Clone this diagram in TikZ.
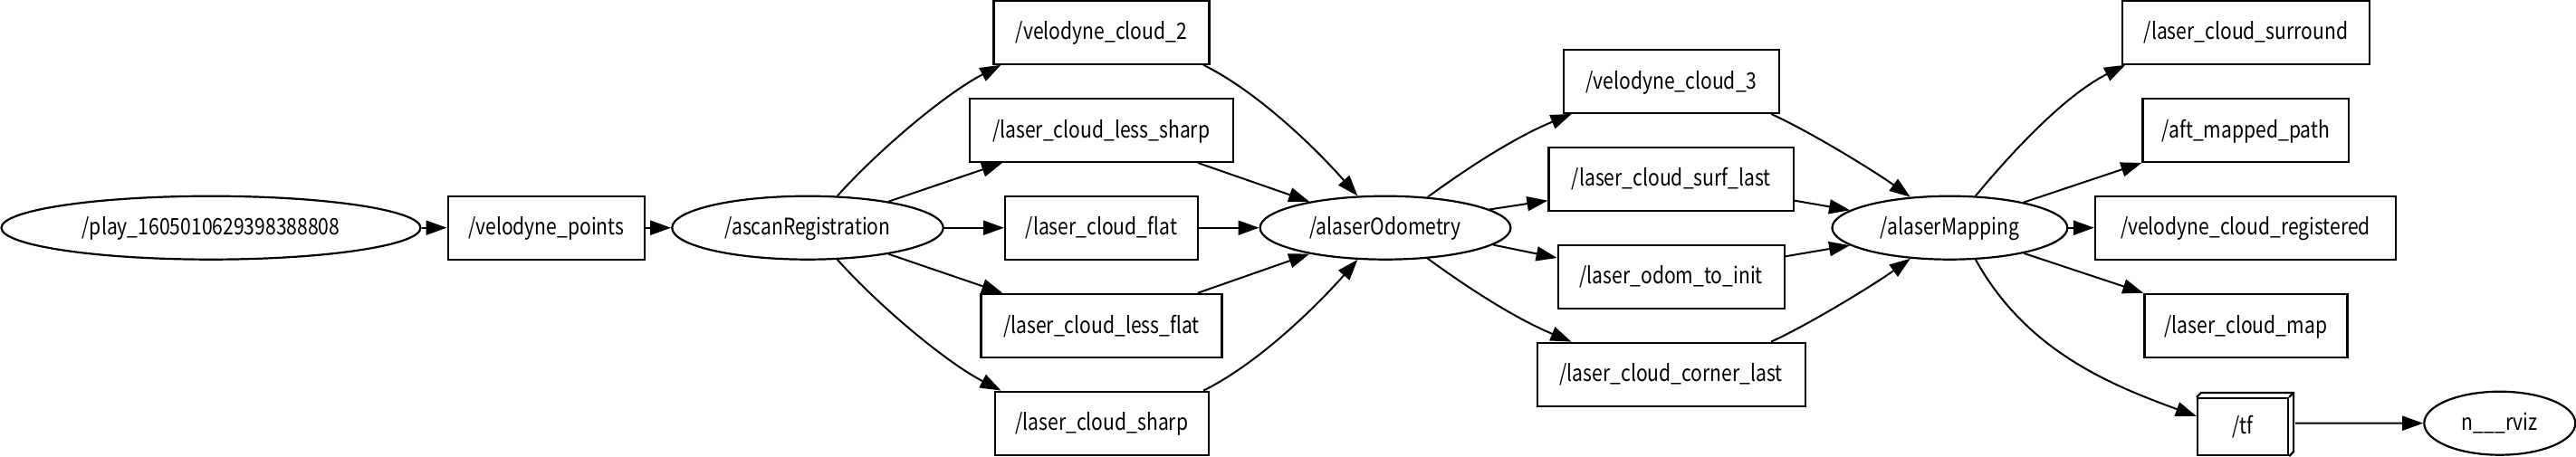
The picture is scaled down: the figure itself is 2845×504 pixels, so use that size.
\documentclass[tikz,border=0pt]{standalone}
\usepackage{fontspec}
\usepackage{graphicx}
\setmainfont{Noto Sans CJK SC}
\usetikzlibrary{shapes.geometric,arrows.meta}
\newlength\reflh
\newlength\reflw
\begin{document}
\settoheight\reflh{\fontsize{13}{15}\selectfont l}
\pgfmathsetmacro\labfs{130/\reflh}
\settowidth\reflw{\fontsize{\labfs}{15}\selectfont /laser\_cloud\_less\_sharp}
\pgfmathsetmacro\labxs{120/\reflw}
\newcommand\lab[1]{\scalebox{\labxs}[1]{#1}}
\begin{tikzpicture}[x=0.5pt,y=-0.5pt,
  lbl/.style={font=\fontsize{\labfs}{15}\selectfont, inner sep=0pt, line width=1.1pt, text height=10.15pt, text depth=2pt},
  topic/.style={lbl, draw, rectangle, minimum height=35pt},
  nd/.style={lbl, draw, ellipse, minimum height=35pt},
  edge/.style={line width=1pt, -{Triangle[length=11.5pt,width=8pt]}}]
\useasboundingbox (0,0) rectangle (2845,504);
% nodes
\node[nd, minimum width=231.5pt] (play) at (233,251.7) {\lab{/play\_1605010629398388808}};
\node[topic, minimum width=108.7pt] (vpts) at (603.3,251.7) {\lab{/velodyne\_points}};
\node[nd, minimum width=149.75pt] (ascan) at (892,251.7) {\lab{/ascanRegistration}};
\node[topic, minimum width=119pt] (vc2) at (1216.5,35.7) {\lab{/velodyne\_cloud\_2}};
\node[topic, minimum width=145.5pt] (lsharp) at (1216.2,143.85) {\lab{/laser\_cloud\_less\_sharp}};
\node[topic, minimum width=106.35pt] (flat) at (1216.4,251.7) {\lab{/laser\_cloud\_flat}};
\node[topic, minimum width=133pt] (lflat) at (1216.5,359.85) {\lab{/laser\_cloud\_less\_flat}};
\node[topic, minimum width=118pt] (sharp) at (1216.8,467.7) {\lab{/laser\_cloud\_sharp}};
\node[nd, minimum width=138.4pt] (odo) at (1530,251.7) {\lab{/alaserOdometry}};
\node[topic, minimum width=119pt] (vc3) at (1846,89.85) {\lab{/velodyne\_cloud\_3}};
\node[topic, minimum width=135.2pt] (surf) at (1845.7,197.7) {\lab{/laser\_cloud\_surf\_last}};
\node[topic, minimum width=125pt] (odominit) at (1845.7,305.7) {\lab{/laser\_odom\_to\_init}};
\node[topic, minimum width=148pt] (corner) at (1845.6,413.7) {\lab{/laser\_cloud\_corner\_last}};
\node[nd, minimum width=129.9pt] (mapping) at (2153.4,251.7) {\lab{/alaserMapping}};
\node[topic, minimum width=136.2pt] (surround) at (2480.4,35.7) {\lab{/laser\_cloud\_surround}};
\node[topic, minimum width=113.9pt] (aftpath) at (2480.4,143.85) {\lab{/aft\_mapped\_path}};
\node[topic, minimum width=166pt] (registered) at (2480,251.7) {\lab{/velodyne\_cloud\_registered}};
\node[topic, minimum width=112pt] (map) at (2480.4,359.85) {\lab{/laser\_cloud\_map}};
\node[topic, minimum width=50pt, minimum height=31.5pt] (tf) at (2477,471.5) {\lab{/tf}};
\draw[line width=1.1pt] (tf.north west) -- ++(5,-5) -- ([shift={(5,-5)}]tf.north east) -- ([shift={(5,-5)}]tf.south east) -- (tf.south east);
\draw[line width=1.1pt] (tf.north east) -- ++(5,-5);
\node[nd, minimum width=83.5pt] (rviz) at (2760.8,467.7) {\lab{n\_\_\_rviz}};
% edges
\draw[edge] (play) -- (vpts);
\draw[edge] (vpts) -- (ascan);
\draw[edge] (ascan.47) .. controls (971,165) and (1045,103) .. ([xshift=4.5pt]vc2.south west);
\draw[edge] (ascan.18) -- ([xshift=18.75pt]lsharp.south west);
\draw[edge] (ascan) -- (flat);
\draw[edge] (ascan.-18) -- ([xshift=12.4pt]lflat.north west);
\draw[edge] (ascan.-47) .. controls (971,338.4) and (1045,400.4) .. ([xshift=3.9pt]sharp.north west);
\draw[edge] ([xshift=-3.75pt]vc2.south east) .. controls (1390,102) and (1454,165) .. (odo.131);
\draw[edge] ([xshift=-19.95pt]lsharp.south east) -- (odo.161);
\draw[edge] (flat) -- (odo);
\draw[edge] ([xshift=-13.9pt]lflat.north east) -- (odo.199);
\draw[edge] ([xshift=-3.4pt]sharp.north east) .. controls (1390,401.4) and (1454,338.4) .. (odo.229);
\draw[edge] (odo.36) .. controls (1627,181) and (1677,150) .. ([xshift=4.85pt]vc3.south west);
\draw[edge] (odo.10) -- ([yshift=-12pt]surf.west);
\draw[edge] (odo.-9) -- ([yshift=10.35pt]odominit.west);
\draw[edge] (odo.-36) .. controls (1627,322.4) and (1677,353.4) .. ([xshift=19.5pt]corner.north west);
\draw[edge] ([xshift=-5pt]vc3.south east) .. controls (2000,146) and (2070,189) .. (mapping.142);
\draw[edge] ([yshift=-12pt]surf.east) -- (mapping.170);
\draw[edge] ([yshift=11.2pt]odominit.east) -- (mapping.190);
\draw[edge] ([xshift=-19.3pt]corner.north east) .. controls (2000,357.4) and (2070,314.4) .. (mapping.218);
\draw[edge] (mapping.51) .. controls (2227,162) and (2283,104) .. ([xshift=2pt]surround.south west);
\draw[edge] (mapping.19) -- (aftpath.south west);
\draw[edge] (mapping) -- (registered);
\draw[edge] (mapping.-19) -- (map.north west);
\draw[edge] (mapping.-51) .. controls (2237,386) and (2327,424) .. ([yshift=5.75pt]tf.west);
\draw[edge] ([shift={(7,-3.8)}]tf.east) -- (rviz);
\end{tikzpicture}
\end{document}
